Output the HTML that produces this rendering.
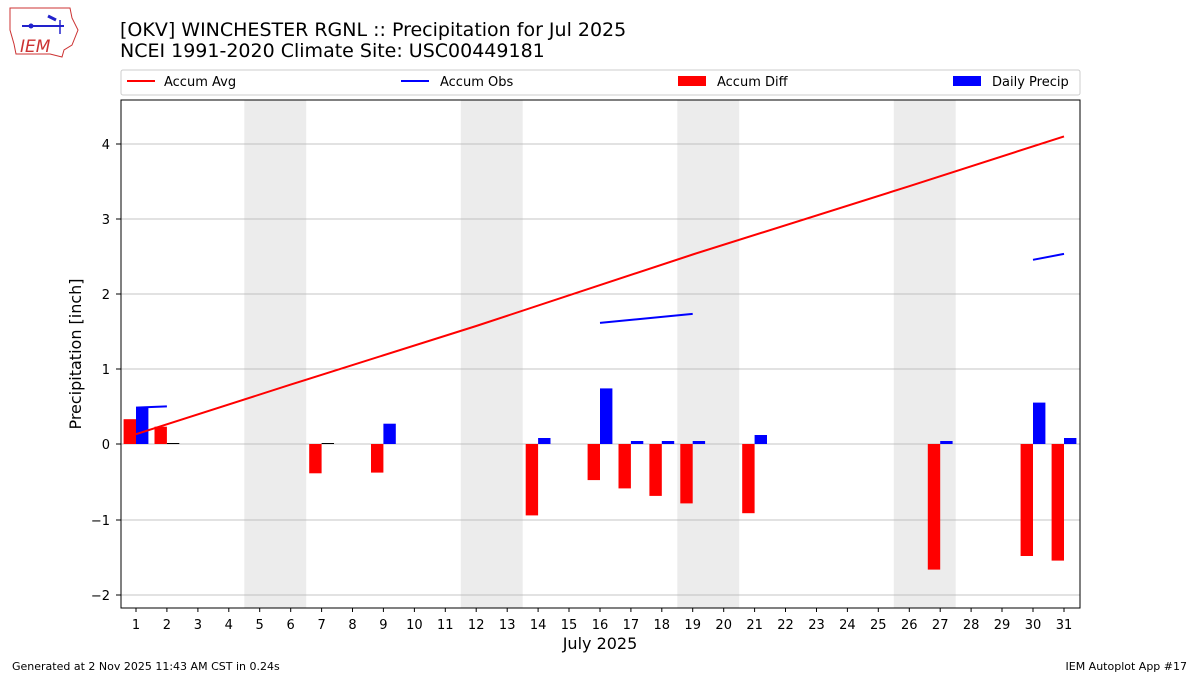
<!DOCTYPE html>
<html><head><meta charset="utf-8"><style>body{margin:0;background:#fff}svg{display:block}text{font-family:"DejaVu Sans","Liberation Sans",sans-serif}</style></head><body>
<svg width="1200" height="675" xmlns="http://www.w3.org/2000/svg">
<!-- logo -->
<g>
<path d="M10,8 L70,8 L72,18 L78,30 L72,45 L64,50 L62,57 L50,54 L16,54 L14,44 L10,30 Z" fill="#fff" stroke="#c33" stroke-width="1"/>
<text x="20" y="52" font-size="17" fill="#c33" font-style="italic" font-family="Liberation Serif,serif">IEM</text>
<line x1="22" y1="26" x2="64" y2="26" stroke="#22c" stroke-width="2"/>
<line x1="48" y1="16" x2="56" y2="20" stroke="#22c" stroke-width="3"/>
<line x1="60" y1="20" x2="60" y2="34" stroke="#22c" stroke-width="1.5"/>
<circle cx="31" cy="26" r="2.5" fill="#22c"/>
</g>
<text x="120" y="36" font-size="19">[OKV] WINCHESTER RGNL :: Precipitation for Jul 2025</text>
<text x="120" y="57" font-size="19">NCEI 1991-2020 Climate Site: USC00449181</text>
<!-- legend -->
<rect x="121" y="70" width="959" height="25" fill="#fff" stroke="#ccc" rx="2"/>
<line x1="127" y1="81" x2="155" y2="81" stroke="red" stroke-width="2"/>
<text x="164" y="86" font-size="13">Accum Avg</text>
<line x1="401" y1="81" x2="429" y2="81" stroke="blue" stroke-width="2"/>
<text x="440" y="86" font-size="13">Accum Obs</text>
<rect x="678" y="76" width="28" height="10" fill="red"/>
<text x="717" y="86" font-size="13">Accum Diff</text>
<rect x="953" y="76" width="28" height="10" fill="blue"/>
<text x="992" y="86" font-size="13">Daily Precip</text>
<!-- weekend shading -->
<g fill="#ececec">
<rect x="244.3" y="100" width="61.9" height="508"/>
<rect x="460.8" y="100" width="61.9" height="508"/>
<rect x="677.3" y="100" width="61.9" height="508"/>
<rect x="893.8" y="100" width="61.9" height="508"/>
</g>
<!-- grid -->
<g stroke="#b0b0b0" stroke-width="0.8">
<line x1="121" x2="1080" y1="144" y2="144"/><line x1="121" x2="1080" y1="219" y2="219"/>
<line x1="121" x2="1080" y1="294" y2="294"/><line x1="121" x2="1080" y1="369" y2="369"/>
<line x1="121" x2="1080" y1="444" y2="444"/><line x1="121" x2="1080" y1="520" y2="520"/>
<line x1="121" x2="1080" y1="595" y2="595"/>
</g>
<!-- red bars -->
<g fill="red">
<rect x="123.6" y="419.2" width="12.4" height="24.8"/>
<rect x="154.5" y="426.7" width="12.4" height="17.3"/>
<rect x="309.2" y="444" width="12.4" height="29.3"/>
<rect x="371" y="444" width="12.4" height="28.6"/>
<rect x="525.7" y="444" width="12.4" height="71.4"/>
<rect x="587.6" y="444" width="12.4" height="36.1"/>
<rect x="618.5" y="444" width="12.4" height="44.4"/>
<rect x="649.4" y="444" width="12.4" height="51.9"/>
<rect x="680.3" y="444" width="12.4" height="59.4"/>
<rect x="742.2" y="444" width="12.4" height="69.2"/>
<rect x="927.8" y="444" width="12.4" height="125.6"/>
<rect x="1020.6" y="444" width="12.4" height="112"/>
<rect x="1051.6" y="444" width="12.4" height="116.6"/>
</g>
<g fill="blue">
<rect x="136" y="407.2" width="12.4" height="36.8"/>
<rect x="383.4" y="423.7" width="12.4" height="20.3"/>
<rect x="538.1" y="438" width="12.4" height="6"/>
<rect x="600" y="388.4" width="12.4" height="55.6"/>
<rect x="630.9" y="441" width="12.4" height="3"/>
<rect x="661.8" y="441" width="12.4" height="3"/>
<rect x="692.7" y="441" width="12.4" height="3"/>
<rect x="754.6" y="435" width="12.4" height="9"/>
<rect x="940.2" y="441" width="12.4" height="3"/>
<rect x="1033" y="402.6" width="12.4" height="41.4"/>
<rect x="1064" y="438" width="12.4" height="6"/>
</g>
<g fill="#000"><rect x="166.9" y="443" width="12.4" height="1"/><rect x="321.6" y="443" width="12.4" height="1"/></g>
<!-- lines -->
<polyline fill="none" stroke="red" stroke-width="2" points="136,434.2 290.7,384.6 476.2,326 692.7,254.5 909.3,186.2 1064,136.4"/>
<g stroke="blue" stroke-width="2">
<line x1="136" y1="407.6" x2="166.9" y2="406.4"/>
<line x1="600" y1="322.9" x2="692.7" y2="313.9"/>
<line x1="1033" y1="259.8" x2="1064" y2="253.9"/>
</g>
<!-- axes -->
<rect x="121" y="100" width="959" height="508" fill="none" stroke="#000" stroke-width="1"/>
<g font-size="13" text-anchor="end">
<text x="110" y="149">4</text><text x="110" y="224">3</text><text x="110" y="299">2</text><text x="110" y="374">1</text><text x="110" y="449">0</text><text x="110" y="525">−1</text><text x="110" y="600">−2</text>
</g>
<g stroke="#000"><line x1="116" x2="121" y1="144" y2="144"/><line x1="116" x2="121" y1="219" y2="219"/><line x1="116" x2="121" y1="294" y2="294"/><line x1="116" x2="121" y1="369" y2="369"/><line x1="116" x2="121" y1="444" y2="444"/><line x1="116" x2="121" y1="520" y2="520"/><line x1="116" x2="121" y1="595" y2="595"/></g>
<g id="xt" font-size="13" text-anchor="middle">
<text x="136" y="629">1</text><text x="166.9" y="629">2</text><text x="197.9" y="629">3</text><text x="228.8" y="629">4</text><text x="259.7" y="629">5</text><text x="290.7" y="629">6</text><text x="321.6" y="629">7</text><text x="352.5" y="629">8</text><text x="383.4" y="629">9</text><text x="414.4" y="629">10</text><text x="445.3" y="629">11</text><text x="476.2" y="629">12</text><text x="507.2" y="629">13</text><text x="538.1" y="629">14</text><text x="569" y="629">15</text><text x="600" y="629">16</text><text x="630.9" y="629">17</text><text x="661.8" y="629">18</text><text x="692.7" y="629">19</text><text x="723.7" y="629">20</text><text x="754.6" y="629">21</text><text x="785.5" y="629">22</text><text x="816.5" y="629">23</text><text x="847.4" y="629">24</text><text x="878.3" y="629">25</text><text x="909.3" y="629">26</text><text x="940.2" y="629">27</text><text x="971.1" y="629">28</text><text x="1002" y="629">29</text><text x="1033" y="629">30</text><text x="1064" y="629">31</text>
</g>
<g stroke="#000">
<path d="M136,608v4M166.9,608v4M197.9,608v4M228.8,608v4M259.7,608v4M290.7,608v4M321.6,608v4M352.5,608v4M383.4,608v4M414.4,608v4M445.3,608v4M476.2,608v4M507.2,608v4M538.1,608v4M569,608v4M600,608v4M630.9,608v4M661.8,608v4M692.7,608v4M723.7,608v4M754.6,608v4M785.5,608v4M816.5,608v4M847.4,608v4M878.3,608v4M909.3,608v4M940.2,608v4M971.1,608v4M1002,608v4M1033,608v4M1064,608v4"/>
</g>
<text x="600" y="649" font-size="16" text-anchor="middle">July 2025</text>
<text transform="translate(81,354) rotate(-90)" font-size="16" text-anchor="middle">Precipitation [inch]</text>
<text x="12" y="670" font-size="11">Generated at 2 Nov 2025 11:43 AM CST in 0.24s</text>
<text x="1187" y="670" font-size="11" text-anchor="end">IEM Autoplot App #17</text>
</svg>
</body></html>
